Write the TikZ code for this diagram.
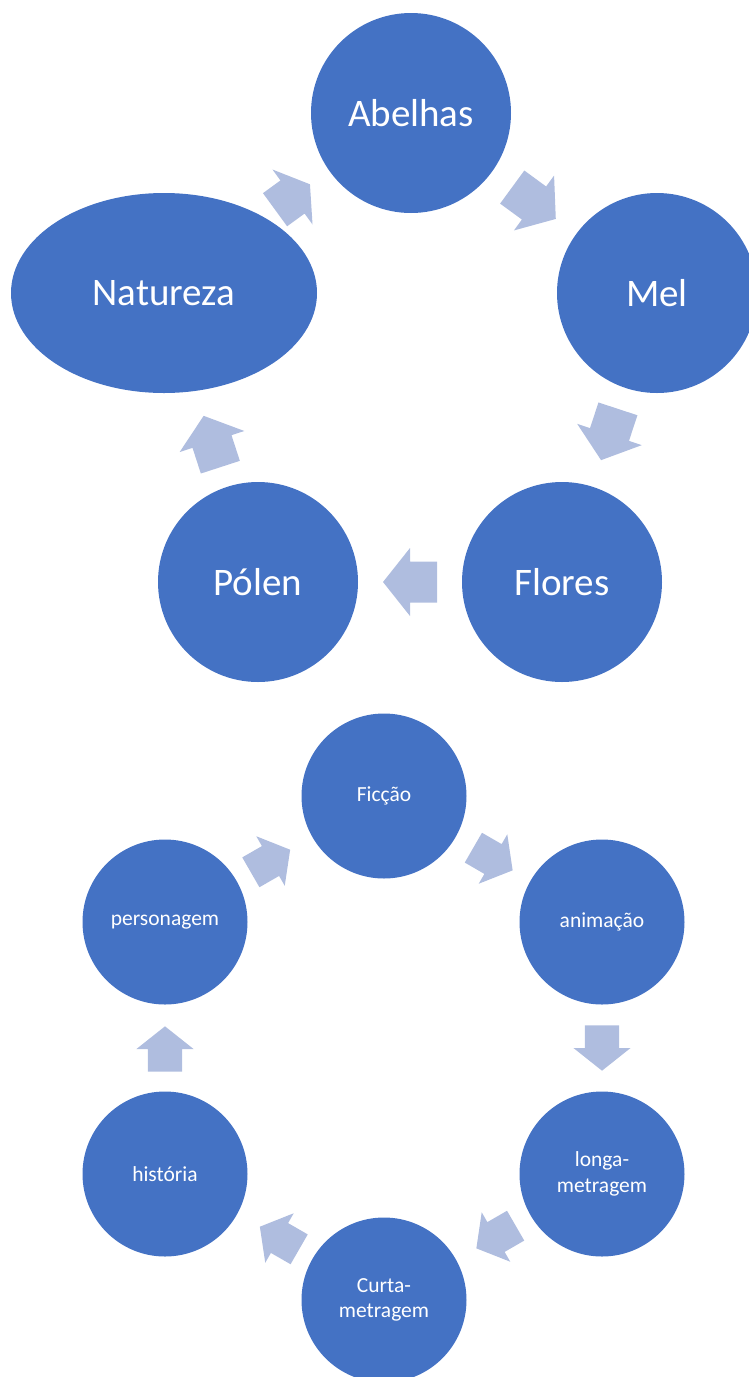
\documentclass[tikz,border=0pt]{standalone}
\usepackage{fontspec}
\setmainfont{Carlito}
\usetikzlibrary{shapes.geometric,calc}
\definecolor{nodeblue}{HTML}{4472C4}
\definecolor{arrowblue}{HTML}{AFBDDF}
\tikzset{
  bignode/.style={circle, fill=nodeblue, text=white, minimum size=200pt, inner sep=0pt, font=\fontsize{39}{47}\selectfont},
  bigell/.style={ellipse, fill=nodeblue, text=white, minimum width=306pt, minimum height=200pt, inner sep=0pt, font=\fontsize{39}{47}\selectfont},
  smallnode/.style={circle, fill=nodeblue, text=white, minimum size=165pt, inner sep=0pt, align=center, font=\fontsize{21.5}{25.5}\selectfont},
  blk/.pic={\fill[arrowblue] (-27,-20.5) -- (0,-20.5) -- (0,-34) -- (27,0) -- (0,34) -- (0,20.5) -- (-27,20.5) -- cycle;}
}
% #1 local options, #2 from node, #3 to node, #4 offset (picture units)
\newcommand{\cycarrow}[4][]{%
  \path let \p1=(#2.center), \p2=(#3.center), \n1={atan2(\y2-\y1,\x2-\x1)} in
    pic[rotate=\n1,#1] at ($(\p1)!0.5!(\p2)+(#4)$) {blk};}
\begin{document}
\begin{tikzpicture}[x=1pt,y=-1pt]
\useasboundingbox (0,0) rectangle (749,1377);
\begin{scope}
\clip (0,0) rectangle (749,1377);
% top cycle
\node[bignode] (abelhas) at (411,113) {Abelhas};
\node[bignode] (mel) at (657,293) {Mel};
\node[bignode] (flores) at (562,582) {Flores};
\node[bignode] (polen) at (258,582) {Pólen};
\node[bigell] (natureza) at (164,293) {Natureza};
\cycarrow{abelhas}{mel}{0,0}
\cycarrow{mel}{flores}{0,-3}
\cycarrow{flores}{polen}{0,0}
\cycarrow{polen}{natureza}{1,4}
\cycarrow[xscale=0.8]{natureza}{abelhas}{5,-6}
% bottom cycle
\node[smallnode] (ficcao) at (384,796) {Ficção};
\node[smallnode] (animacao) at (602,922) {animação};
\node[smallnode] (longa) at (602,1174) {longa-\\metragem};
\node[smallnode] (curta) at (384,1300) {Curta-\\metragem};
\node[smallnode] (historia) at (165,1174) {história};
\node[smallnode] (personagem) at (165,922) {personagem};
\cycarrow[scale=0.84]{ficcao}{animacao}{0,0}
\cycarrow[scale=0.84]{animacao}{longa}{0,0}
\cycarrow[scale=0.84]{longa}{curta}{3,0}
\cycarrow[scale=0.84]{curta}{historia}{5,1}
\cycarrow[scale=0.84]{historia}{personagem}{0,1}
\cycarrow[scale=0.84]{personagem}{ficcao}{-4,2}
\end{scope}
\end{tikzpicture}
\end{document}
